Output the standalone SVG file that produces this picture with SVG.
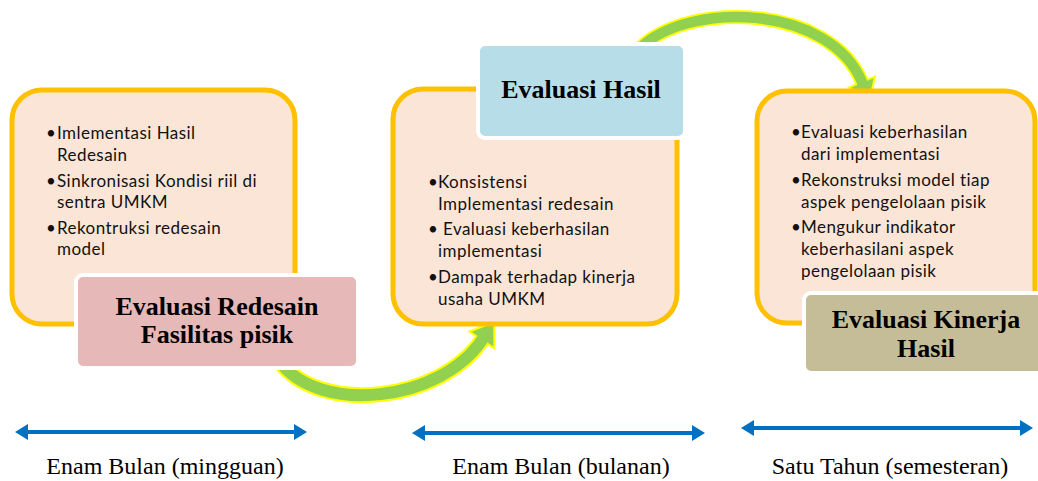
<svg xmlns="http://www.w3.org/2000/svg" width="1038" height="481" viewBox="0 0 1038 481">
<style>
.panel{fill:#FBE5D6;stroke:#FFC000;stroke-width:5}
.title{stroke:#FFFFFF;stroke-width:4}
.body{font-family:Lato,"Open Sans",sans-serif;font-size:17px;letter-spacing:0.45px;fill:#111}
.head{font-family:"Liberation Serif","Times New Roman",serif;font-size:26px;font-weight:bold;fill:#000;text-anchor:middle}
.lbl{font-family:"Liberation Serif","Times New Roman",serif;font-size:24px;fill:#000;text-anchor:middle}
.bandY{fill:none;stroke:#FFFF00}
.bandG{fill:none;stroke:#92D050}
.ahead{fill:#92D050;stroke:#FFFF00;stroke-width:2;stroke-linejoin:miter}
.tl{stroke:#0070C0;stroke-width:4;fill:none}
</style>
<defs>
<marker id="bh" viewBox="0 -9 14 18" refX="0" refY="0" markerWidth="14" markerHeight="18" markerUnits="userSpaceOnUse" orient="auto-start-reverse">
<path d="M0,-8 L13,0 L0,8 Z" fill="#0070C0"/>
</marker>
</defs>

<g id="connectors">
<g id="arrow-1">
<path class="bandY" stroke-width="16" d="M280,362 C320,415 440,402 482,340"/>
<polygon class="ahead" points="494.4,348.4 469.6,331.6 494.3,321.8"/>
<path class="bandG" stroke-width="12" d="M280,362 C320,415 440,402 482,340 L484,337"/>
</g>
<g id="arrow-2">
<path class="bandY" stroke-width="14" d="M640,48 C690,0 830,5 862,82"/>
<polygon class="ahead" points="874.9,76.6 849.1,87.4 869.7,100.5"/>
<path class="bandG" stroke-width="10.5" d="M640,48 C690,0 830,5 862,82 L863,85"/>
</g>
<line id="span-1" class="tl" x1="28" y1="432" x2="294" y2="432" marker-start="url(#bh)" marker-end="url(#bh)"/>
<line id="span-2" class="tl" x1="425" y1="433" x2="692" y2="433" marker-start="url(#bh)" marker-end="url(#bh)"/>
<line id="span-3" class="tl" x1="754" y1="428" x2="1020" y2="428" marker-start="url(#bh)" marker-end="url(#bh)"/>
</g>

<g id="panel-1">
<rect class="panel" x="12" y="90" width="283" height="234" rx="30"/>
<text class="body"><tspan x="46" y="139">•</tspan><tspan x="57" y="139">Imlementasi Hasil</tspan><tspan x="57" y="161">Redesain</tspan><tspan x="46" y="187">•</tspan><tspan x="57" y="187">Sinkronisasi Kondisi riil di</tspan><tspan x="57" y="208">sentra UMKM</tspan><tspan x="46" y="234">•</tspan><tspan x="57" y="234">Rekontruksi redesain</tspan><tspan x="57" y="255">model</tspan></text>
</g>
<g id="title-1">
<rect class="title" x="76" y="275" width="282" height="93" rx="7" fill="#E6B8B7"/>
<text class="head"><tspan x="217" y="315">Evaluasi Redesain</tspan><tspan x="217" y="343">Fasilitas pisik</tspan></text>
</g>

<g id="panel-2">
<rect class="panel" x="393" y="89" width="284" height="235" rx="30"/>
<text class="body"><tspan x="428" y="188">•</tspan><tspan x="438" y="188">Konsistensi</tspan><tspan x="438" y="210">Implementasi redesain</tspan><tspan x="428" y="235">•</tspan><tspan x="443" y="235">Evaluasi keberhasilan</tspan><tspan x="438" y="257">implementasi</tspan><tspan x="428" y="283">•</tspan><tspan x="438" y="283">Dampak terhadap kinerja</tspan><tspan x="438" y="305">usaha UMKM</tspan></text>
</g>
<g id="title-2">
<rect class="title" x="478" y="44" width="207" height="94" rx="7" fill="#B7DEE8"/>
<text class="head" x="581" y="98">Evaluasi Hasil</text>
</g>

<g id="panel-3">
<rect class="panel" x="757" y="91" width="278" height="232" rx="30"/>
<text class="body"><tspan x="791" y="138">•</tspan><tspan x="801" y="138">Evaluasi keberhasilan</tspan><tspan x="801" y="160">dari implementasi</tspan><tspan x="791" y="186">•</tspan><tspan x="801" y="186">Rekonstruksi model tiap</tspan><tspan x="801" y="208">aspek pengelolaan pisik</tspan><tspan x="791" y="233">•</tspan><tspan x="801" y="233">Mengukur indikator</tspan><tspan x="801" y="255">keberhasilani aspek</tspan><tspan x="801" y="277">pengelolaan pisik</tspan></text>
</g>
<g id="title-3">
<rect class="title" x="804" y="293" width="250" height="80" rx="7" fill="#C4BD97"/>
<text class="head"><tspan x="926" y="328">Evaluasi Kinerja</tspan><tspan x="926" y="357">Hasil</tspan></text>
</g>

<g id="labels">
<text class="lbl" x="165" y="474">Enam Bulan (mingguan)</text>
<text class="lbl" x="561" y="474">Enam Bulan (bulanan)</text>
<text class="lbl" x="890" y="474">Satu Tahun (semesteran)</text>
</g>
</svg>
